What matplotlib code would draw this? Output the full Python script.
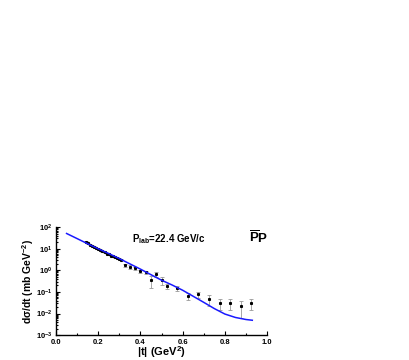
import numpy as np
import matplotlib
matplotlib.use("Agg")
import matplotlib.pyplot as plt

plt.rcParams['font.family'] = ['Liberation Sans', 'DejaVu Sans']
plt.rcParams['font.weight'] = 'bold'
plt.rcParams['mathtext.fontset'] = 'custom'
plt.rcParams['mathtext.rm'] = 'Liberation Sans:bold'
plt.rcParams['mathtext.bf'] = 'Liberation Sans:bold'
plt.rcParams['mathtext.it'] = 'Liberation Sans:bold'

# model curve
curve_t = [0.05, 0.10, 0.15, 0.20, 0.25, 0.30, 0.35, 0.40, 0.45, 0.50,
           0.55, 0.60, 0.65, 0.70, 0.75, 0.80, 0.85, 0.90, 0.93]
curve_y = [51, 29.5, 17, 10, 6.0, 3.5, 2.0, 1.14, 0.63, 0.35,
           0.21, 0.12, 0.063, 0.033, 0.017, 0.0095, 0.0066, 0.0053, 0.0049]

# data points
data_t = [0.14, 0.15, 0.16, 0.17, 0.18, 0.19, 0.20, 0.21, 0.22, 0.23,
          0.24, 0.25, 0.26, 0.27, 0.28, 0.29, 0.30, 0.31,
          0.325, 0.35, 0.375, 0.40, 0.425, 0.45, 0.475, 0.50, 0.525,
          0.575, 0.625, 0.675, 0.725, 0.775, 0.825, 0.875, 0.925]
data_y = [21, 18, 15.5, 14, 12.5, 11, 10, 9, 7.5, 7,
          6.0, 5.6, 4.8, 4.5, 4.0, 3.8, 3.5, 3.1,
          1.74, 1.45, 1.22, 0.92, 0.80, 0.35, 0.67, 0.35, 0.19,
          0.145, 0.065, 0.079, 0.047, 0.031, 0.031, 0.022, 0.031]
data_err = [0.8, 0.7, 0.6, 0.5, 0.5, 0.4, 0.4, 0.4, 0.3, 0.3,
            0.3, 0.25, 0.2, 0.2, 0.2, 0.2, 0.15, 0.15,
            0.3, 0.25, 0.22, 0.17, 0.15, 0.19, 0.17, 0.14, 0.05,
            0.037, 0.023, 0.025, 0.025, 0.017, 0.017, 0.016, 0.017]

fig = plt.figure(figsize=(4.09, 3.6), dpi=100)
ax = fig.add_axes([0.137, 0.069, 0.516, 0.3])

ax.errorbar(data_t, data_y, yerr=data_err, fmt='s', ms=1.2, color='black',
            ecolor='#999999', elinewidth=0.6, capsize=1.5, capthick=0.6, zorder=2)
ax.plot(curve_t, curve_y, color='#1a1aff', lw=1.1, zorder=3)

ax.set_yscale('log')
ax.set_xlim(0, 1.0)
ax.set_ylim(1e-3, 1e2)
ax.set_xticks([0.0, 0.2, 0.4, 0.6, 0.8, 1.0])
ax.set_xticklabels(['0.0', '0.2', '0.4', '0.6', '0.8', '1.0'])
ax.set_xticks([0.1, 0.3, 0.5, 0.7, 0.9], minor=True)
ax.set_yticks([1e-3, 1e-2, 1e-1, 1, 10, 100])
ax.set_yticklabels([r'$10^{-3}$', r'$10^{-2}$', r'$10^{-1}$', r'$10^{0}$',
                    r'$10^{1}$', r'$10^{2}$'])
ax.tick_params(which='both', direction='in', labelsize=5.5, width=0.8, pad=2.5)
ax.tick_params(which='major', length=3)
ax.tick_params(which='minor', length=1.5)
ax.spines['top'].set_visible(False)
ax.spines['right'].set_visible(False)
ax.spines['left'].set_linewidth(1.0)
ax.spines['bottom'].set_linewidth(1.0)

ax.set_xlabel(r'|t| (GeV$^{2}$)', fontsize=8, fontweight='bold', labelpad=-1)
ax.set_ylabel(r'd$\sigma$/dt (mb GeV$^{-2}$)', fontsize=7.5, fontweight='bold',
              labelpad=0, family=['Liberation Sans', 'DejaVu Sans'])

ax.text(0.36, 10**1.45, r'P$_{\rm lab}$=22.4 GeV/c', fontsize=7, fontweight='bold',
        va='center', ha='left')
ax.text(0.915, 10**1.5, r'$\overline{\rm P}$P', fontsize=9.5, fontweight='bold',
        va='center', ha='left')

fig.savefig('out.png', dpi=100)
